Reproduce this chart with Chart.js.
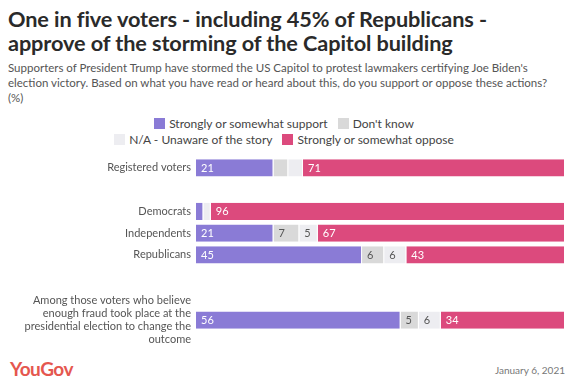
<!DOCTYPE html>
<html><head><meta charset="utf-8">
<script src="https://cdn.jsdelivr.net/npm/chart.js@4/dist/chart.umd.min.js"></script>
<style>
html,body{margin:0;padding:0;background:#fff}
body{width:575px;height:384px;position:relative;overflow:hidden;font-family:Lato,"Open Sans",sans-serif}
#title{position:absolute;left:8px;top:7px;font-size:21.7px;font-weight:700;color:#2a2a2a;line-height:24px;letter-spacing:-0.1px}
#sub{position:absolute;left:8px;top:60px;font-size:11.5px;color:#555;line-height:15px;width:565px}
#legend{position:absolute;top:116px;left:0;width:568px;text-align:center;font-size:12px;color:#444;line-height:16px}
#legend .row{height:16px;margin-bottom:0px;white-space:nowrap}
#legend .it{display:inline-block;margin:0 5px}
#legend .sw{display:inline-block;width:11px;height:11px;vertical-align:-1px;margin-right:4px}
#wrap{position:absolute;left:0;top:148px;width:575px;height:200px}
#logo{position:absolute;left:10px;top:357px;font-size:19px;font-weight:700;color:#e5574f;letter-spacing:-0.5px}
#date{position:absolute;right:10px;top:364px;font-size:10px;color:#777}
</style></head>
<body>
<div id="title">One in five voters - including 45% of Republicans -<br>approve of the storming of the Capitol building</div>
<div id="sub">Supporters of President Trump have stormed the US Capitol to protest lawmakers certifying Joe Biden's<br>election victory. Based on what you have read or heard about this, do you support or oppose these actions?<br>(%)</div>
<div id="legend"></div>
<div id="wrap"><canvas id="c"></canvas></div>
<div id="logo">YouGov</div>
<div id="date">January 6, 2021</div>
<script>
const categories = ['Registered voters', '', 'Democrats', 'Independents', 'Republicans', '', '',
  ['Among those voters who believe', 'enough fraud took place at the', 'presidential election to change the', 'outcome']];
const support = [21, null, 2, 21, 45, null, null, 56];
const dontKnow = [4, null, 0, 7, 6, null, null, 5];
const unaware = [4, null, 2, 5, 6, null, null, 6];
const oppose = [71, null, 96, 67, 43, null, null, 34];
const seriesNames = ['Strongly or somewhat support', "Don't know", 'N/A - Unaware of the story', 'Strongly or somewhat oppose'];
const seriesColors = ['#8a7bd6', '#d9d9d9', '#ededf1', '#dc4a7d'];
const labelColors = ['#fff', '#555', '#555', '#fff'];
const raw = [support, dontKnow, unaware, oppose];

// legend (two rows like the reference)
const lg = document.getElementById('legend');
[[0, 1], [2, 3]].forEach(r => {
  const row = document.createElement('div'); row.className = 'row';
  r.forEach(i => {
    const it = document.createElement('span'); it.className = 'it';
    it.innerHTML = '<span class="sw" style="background:' + seriesColors[i] + '"></span>' + seriesNames[i];
    row.appendChild(it);
  });
  lg.appendChild(row);
});

const totals = categories.map((_, i) => raw.reduce((s, a) => s + (a[i] || 0), 0));
const norm = arr => arr.map((v, i) => v == null ? null : v / totals[i] * 100);

const labelPlugin = {
  id: 'segLabels',
  afterDatasetsDraw(chart) {
    const ctx = chart.ctx;
    ctx.save();
    ctx.font = '11px Lato, "Open Sans", sans-serif';
    ctx.textBaseline = 'middle';
    ctx.textAlign = 'left';
    chart.data.datasets.forEach((ds, di) => {
      const meta = chart.getDatasetMeta(di);
      meta.data.forEach((el, i) => {
        const v = raw[di][i];
        if (v == null || v < 5) return;
        ctx.fillStyle = labelColors[di];
        ctx.fillText(String(v), Math.min(el.x, el.base) + 5, el.y + 0.5);
      });
    });
    ctx.restore();
  }
};

new Chart(document.getElementById('c'), {
  type: 'bar',
  data: {
    labels: categories,
    datasets: raw.map((arr, i) => ({
      label: seriesNames[i],
      data: norm(arr),
      backgroundColor: seriesColors[i],
      borderColor: '#fff',
      borderWidth: {left: 0, top: 0, bottom: 0, right: 1},
      borderSkipped: false,
      barPercentage: 1,
      categoryPercentage: 0.8
    }))
  },
  options: {
    indexAxis: 'y',
    responsive: true,
    maintainAspectRatio: false,
    animation: false,
    layout: {padding: {left: 0, right: 10, top: 9, bottom: 17}},
    plugins: {legend: {display: false}, tooltip: {enabled: false}},
    scales: {
      x: {stacked: true, display: false, min: 0, max: 100},
      y: {
        stacked: true,
        grid: {display: false, drawTicks: false},
        border: {display: false},
        ticks: {color: '#555', font: {size: 11, family: 'Lato, "Open Sans", sans-serif'}, padding: 5, autoSkip: false},
        afterFit(scale) { scale.width = 196; scale.paddingTop = 0; scale.paddingBottom = 0; }
      }
    }
  },
  plugins: [labelPlugin]
});
</script>
</body></html>
